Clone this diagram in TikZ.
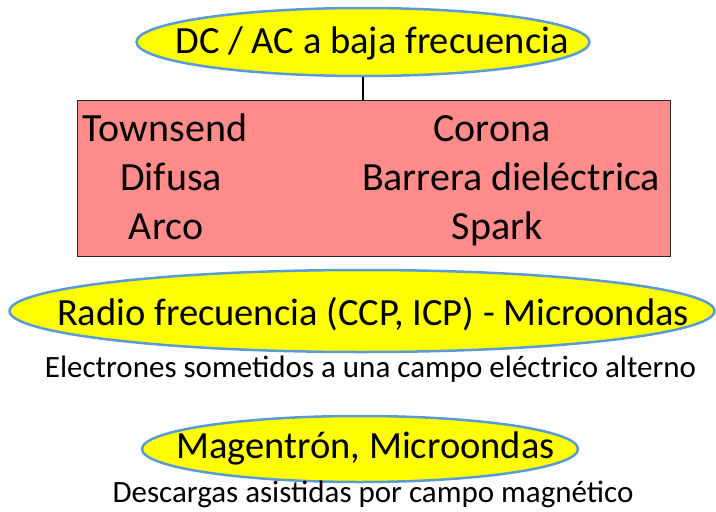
\documentclass[tikz,border=0pt]{standalone}
\usepackage{fontspec}
\setmainfont{Carlito}
\usetikzlibrary{positioning, shapes}
\definecolor{elipsefill}{HTML}{FFFF00}
\definecolor{elipsedraw}{HTML}{5B9BD5}
\definecolor{cajafill}{HTML}{FF8B8B}

\begin{document}
\begin{tikzpicture}[
    x=1pt, y=-1pt,
    % Styles
    tipo/.style={% For the yellow ellipses
        ellipse,
        draw=elipsedraw,
        fill=elipsefill,
        line width=2.5pt,
        inner sep=0pt,
        },
    titulo/.style={% Text on the ellipses
        inner sep=0pt,
        anchor=base,
        font=\fontsize{38.5}{44}\selectfont,
        },
    caja/.style={% For the red box
        rectangle,
        draw=black!85,
        fill=cajafill,
        line width=1pt,
        },
    item/.style={% Names inside the box
        inner sep=0pt,
        anchor=base,
        font=\fontsize{40}{46}\selectfont,
        },
    nota/.style={% Comments below the ellipses
        inner sep=0pt,
        anchor=base,
        font=\fontsize{31}{36}\selectfont,
        },
    ]
    \useasboundingbox (0,0) rectangle (716,512);

    % Draw the ellipses
    \node [tipo, minimum width=453, minimum height=68] (dcac) at (363,42) {};
    \node [tipo, minimum width=705, minimum height=82] (rf) at (362,311) {};
    \node [tipo, minimum width=436, minimum height=66] (magn) at (360,449) {};
    \node [titulo] (tdcac) at (372,53) {DC / AC a baja frecuencia};
    \node [titulo] (trf) at (373,325) {Radio frecuencia (CCP, ICP) - Microondas};
    \node [titulo] (tmagn) at (365.5,458) {Magentrón, Microondas};

    % Draw the box
    \node [caja, minimum width=593, minimum height=156] (box) at (373.5,178) {};

    % Names of the discharges
    \node [item] (townsend) at (165,141.5) {Townsend};
    \node [item] (difusa) at (171,190) {Difusa};
    \node [item] (arco) at (166,239.5) {Arco};
    \node [item] (corona) at (492,141.5) {Corona};
    \node [item] (barrera) at (511,190) {Barrera dieléctrica};
    \node [item] (spark) at (497,239.5) {Spark};

    % Notes
    \node [nota] (notarf) at (370.5,377) {Electrones sometidos a una campo eléctrico alterno};
    \node [nota] (notamagn) at (373,502) {Descargas asistidas por campo magnético};

    % Connector
    \draw [line width=1.5pt] (dcac.south) -- (dcac.south |- box.north);

\end{tikzpicture}
\end{document}
